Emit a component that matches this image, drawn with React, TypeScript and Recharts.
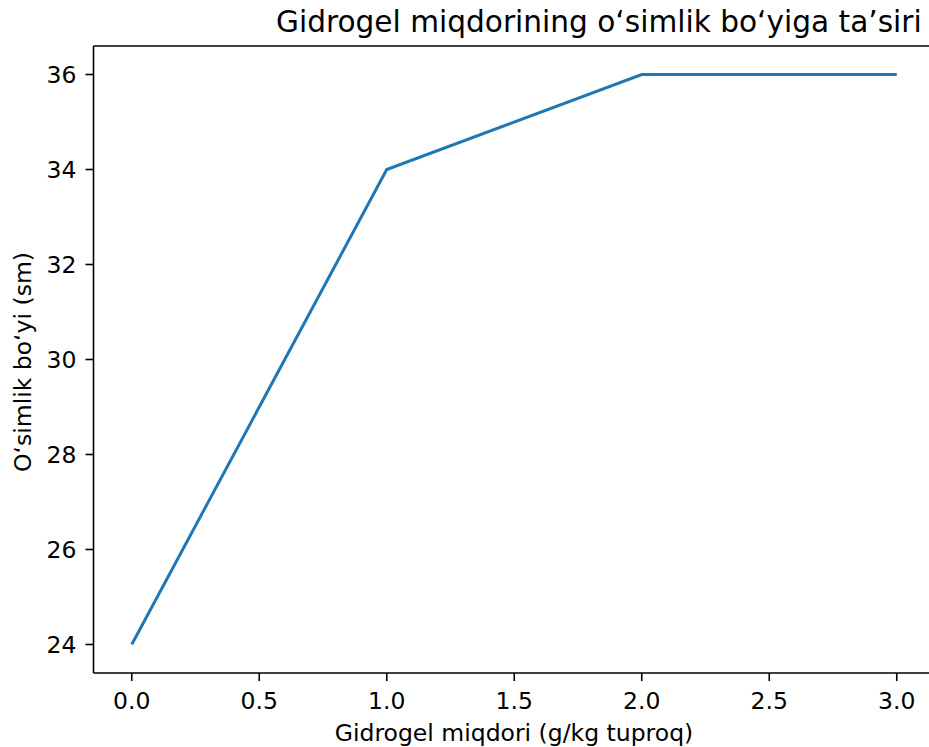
import React from 'react';
import { LineChart, Line, XAxis, YAxis, ReferenceLine } from 'recharts';

// Gidrogel miqdori (g/kg) va o'simlik bo'yi (sm)
const gidrogelDoses = [0, 1, 2, 3];
const plantHeights = [24, 34, 36, 36];

const xTicks = [0, 0.5, 1, 1.5, 2, 2.5, 3];
const yTicks = [24, 26, 28, 30, 32, 34, 36];

const titleText = 'Gidrogel miqdorining o‘simlik bo‘yiga ta’siri';
const xLabelText = 'Gidrogel miqdori (g/kg tuproq)';
const yLabelText = 'O‘simlik bo‘yi (sm)';

const FONT = '"DejaVu Sans", sans-serif';
const LINE_COLOR = '#1f77b4';

export default function App() {
  const data = gidrogelDoses.map((x, i) => ({ dose: x, height: plantHeights[i] }));
  const tickStyle = { fontSize: 23.5, fill: '#000', fontFamily: FONT };

  return (
    <div
      style={{
        position: 'absolute',
        left: 0,
        top: 0,
        width: 929,
        height: 747,
        overflow: 'hidden',
        background: '#fff',
      }}
    >
      <LineChart
        width={945}
        height={747}
        data={data}
        margin={{ top: 46, right: 10, left: 0, bottom: 0 }}
      >
        <XAxis
          dataKey="dose"
          type="number"
          domain={[-0.15, 3.15]}
          ticks={xTicks}
          allowDataOverflow
          tickFormatter={(v: number) => v.toFixed(1)}
          height={74}
          tick={tickStyle}
          tickSize={8}
          tickMargin={11}
          axisLine={{ stroke: '#000', strokeWidth: 1.6 }}
          tickLine={{ stroke: '#000', strokeWidth: 1.6 }}
        />
        <YAxis
          type="number"
          domain={[23.4, 36.6]}
          ticks={yTicks}
          allowDataOverflow
          width={93.5}
          tick={tickStyle}
          tickSize={8}
          tickMargin={9}
          axisLine={{ stroke: '#000', strokeWidth: 1.6 }}
          tickLine={{ stroke: '#000', strokeWidth: 1.6 }}
        />
        {/* yuqori chegara chizig'i */}
        <ReferenceLine y={36.6} stroke="#000" strokeWidth={1.6} />
        <Line
          type="linear"
          dataKey="height"
          stroke={LINE_COLOR}
          strokeWidth={3}
          dot={false}
          isAnimationActive={false}
        />
      </LineChart>

      {/* sarlavha va o'q nomlari */}
      <svg
        width={929}
        height={747}
        style={{ position: 'absolute', left: 0, top: 0, pointerEvents: 'none' }}
        fontFamily={FONT}
        fill="#000"
      >
        <text x={276} y={32} fontSize={29.6}>
          {titleText}
        </text>
        <text x={514} y={741} fontSize={23.5} textAnchor="middle">
          {xLabelText}
        </text>
        <text transform="translate(31,362) rotate(-90)" fontSize={23.5} textAnchor="middle">
          {yLabelText}
        </text>
      </svg>
    </div>
  );
}
